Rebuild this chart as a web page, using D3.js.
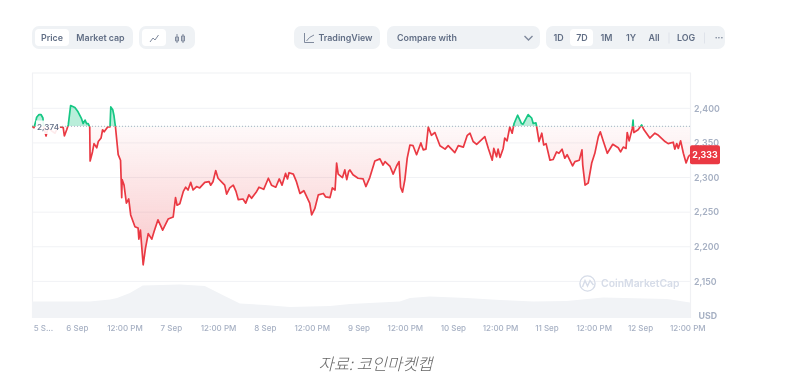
<!DOCTYPE html>
<html>
<head>
<meta charset="utf-8">
<script src="https://cdn.jsdelivr.net/npm/d3@7"></script>
<style>
  html, body { margin: 0; padding: 0; background: #fff; }
  svg { display: block; filter: blur(0.6px); font-family: Inter, "Noto Sans", sans-serif; }
  .btn { font-size: 8.9px; font-weight: 600; fill: #616e85; text-anchor: middle; }
  .tick text { font-family: Inter, sans-serif; }
</style>
</head>
<body>
<div id="chart"></div>
<script>
// hours since 6 Sep 00:00
const hours = [
  -11.5,-11,-10.5,-10.3,-9.7,-9.2,-8.7,-8.5,-7.9,-7.4,-6.4,-5.6,-4.9,-4.1,-3.5,-3.2,-2.6,-2.2,-1.6,-0.5,
  0.3,1.2,1.6,2.1,2.5,2.9,3.3,3.4,4,4.4,5.1,5.5,6.2,6.6,7,7.9,8.5,8.7,9.2,9.5,9.9,10.6,11.2,11.5,11.6,
  12.1,12.7,13.3,13.8,14.9,15.7,15.9,16.3,17,17.6,18.3,19.2,19.8,20.8,22,23.4,
  24.7,25.3,25.7,26.4,27.3,27.9,28.5,29.2,29.8,30.7,31.5,32.8,33.9,34.3,34.9,35.6,
  36.2,37.4,37.9,38.4,39.2,40.1,40.8,41.4,42.6,43.3,44.1,44.8,46.1,46.7,47.9,
  49.1,49.9,51,51.9,52.6,53.5,54,54.4,55.5,56.3,57.2,58.2,59.7,60.2,
  61,61.9,63.2,63.8,64.9,65.5,66.2,66.6,67,68.1,68.7,69.2,69.7,70,70.8,
  72.1,73.4,74.1,75.1,76.4,77.7,78.5,79,80.3,81.1,82,82.6,83,83.5,
  84.1,84.7,85.4,86.2,87.1,88.2,88.8,89.5,90.1,90.9,91.8,93.1,94.4,95.2,
  96.9,97.8,99.1,100.1,100.8,101.6,102.5,104.6,105.5,106.5,106.9,107.6,
  108,108.5,109.3,109.7,110.3,111,111.6,112.1,113,114,114.4,115.7,116.6,117,117.7,117.9,118.5,119.2,119.7,
  120.3,121.3,122.1,123,123.6,124.4,125.1,125.7,127.1,127.7,128.8,129.5,129.7,130.3,131.1,
  132,132.8,133.7,134.2,135,136,137.4,138.8,139.4,140.1,140.8,141.1,141.6,142.4,142.6,142.8,143.9,
  144.8,145.4,146.9,148.2,149.1,150.8,151.6,152.9,153.3,153.8,154.2,154.8,155.5,156.2,156.8,157.2
];
const prices = [
  2374,2372,2382,2387,2391,2391,2386,2373,2360,2372,2367,2364,2372,2373,2372,2360,2369,2376,2404,2401,
  2395,2385,2378,2383,2378,2378,2373,2324,2337,2349,2343,2352,2357,2369,2366,2373,2373,2402,2398,2390,2373,2333,2325,2271,2297,
  2289,2263,2269,2246,2229,2227,2211,2224,2174,2198,2219,2211,2222,2239,2224,2240,
  2243,2271,2260,2262,2280,2286,2282,2293,2282,2287,2285,2293,2294,2289,2294,2310,
  2299,2292,2289,2276,2285,2289,2280,2268,2269,2263,2275,2270,2280,2286,2283,
  2299,2289,2286,2298,2289,2306,2298,2307,2305,2294,2277,2281,2263,2246,
  2255,2275,2277,2272,2271,2285,2282,2321,2305,2300,2311,2297,2309,2311,2304,
  2299,2298,2287,2300,2324,2327,2318,2323,2316,2305,2317,2323,2286,2279,
  2297,2328,2347,2346,2333,2350,2340,2341,2373,2361,2365,2346,2341,2346,
  2336,2346,2344,2361,2364,2352,2348,2359,2342,2325,2342,2330,
  2341,2329,2342,2357,2353,2373,2364,2378,2390,2378,2377,2391,2386,2378,2379,2373,2352,2364,2347,
  2349,2325,2326,2337,2335,2341,2328,2333,2317,2323,2325,2340,2318,2289,2292,
  2321,2335,2359,2366,2352,2335,2348,2343,2337,2344,2342,2365,2353,2371,2383,2365,2369,
  2376,2369,2357,2364,2361,2352,2349,2351,2341,2349,2342,2353,2335,2321,2330,2333
];
const volumeHours = [-11.5,3.3,8.5,10.3,13.6,16.9,26.4,32.8,37.9,41.8,48.2,54.6,64.9,70,82.8,85.4,90.5,100,108.5,117,125.6,134.9,151.3,157.2];
const volumes = [33,33,37,40,50,65,67,64,44,29,26,22,24,28,33,40,43,40,36,33,34,41,38,31];

const yTicks = [2400, 2350, 2300, 2250, 2200, 2150];
const xTickHours = [-8.7,0,12.2,24.1,36.2,48.2,60.2,72.2,84.1,96.4,108.5,120.4,132.5,144.4,156.5];
const xTickLabels = ["5 S...","6 Sep","12:00 PM","7 Sep","12:00 PM","8 Sep","12:00 PM","9 Sep","12:00 PM","10 Sep","12:00 PM","11 Sep","12:00 PM","12 Sep","12:00 PM"];
const openPrice = 2374;
const lastPrice = 2333;

const width = 793;
const height = 379;
const plot = { left: 32, right: 690, top: 73, bottom: 318 };
const red = "#ea3943";
const green = "#16c784";

const x = d3.scaleLinear().domain([-11.5, 157.2]).range([plot.left, plot.right]);
const y = d3.scaleLinear().domain([2150, 2400]).range([281.4, 108.3]);
const yVol = d3.scaleLinear().domain([0, 100]).range([plot.bottom, plot.bottom - 50]);
const fmt = d3.format(",");
const rows = hours.map((h, i) => ({ h, p: prices[i] }));
const volRows = volumeHours.map((h, i) => ({ h, v: volumes[i] }));

const svg = d3.select("#chart").append("svg").attr("width", width).attr("height", height);
const defs = svg.append("defs");

const grad = defs.append("linearGradient").attr("id", "redFill")
  .attr("gradientUnits", "userSpaceOnUse").attr("x1", 0).attr("x2", 0)
  .attr("y1", y(openPrice)).attr("y2", y(2174));
grad.append("stop").attr("offset", 0).attr("stop-color", red).attr("stop-opacity", 0.03);
grad.append("stop").attr("offset", 1).attr("stop-color", red).attr("stop-opacity", 0.28);

defs.append("clipPath").attr("id", "above").append("rect")
  .attr("x", plot.left).attr("y", plot.top).attr("width", plot.right - plot.left).attr("height", y(openPrice) - plot.top);
defs.append("clipPath").attr("id", "below").append("rect")
  .attr("x", plot.left).attr("y", y(openPrice)).attr("width", plot.right - plot.left).attr("height", plot.bottom - y(openPrice));

// toolbar
const pills = [
  { x: 32, w: 101, fill: "#eff2f5" }, { x: 139, w: 56, fill: "#eff2f5" }, { x: 294, w: 86, fill: "#eff2f5" },
  { x: 387, w: 153, fill: "#eff2f5" }, { x: 546, w: 179, fill: "#eff2f5" },
  { x: 35, w: 34, fill: "#fff", inner: true }, { x: 142, w: 24, fill: "#fff", inner: true }, { x: 570, w: 23, fill: "#fff", inner: true }
];
svg.append("g").selectAll("rect").data(pills).join("rect")
  .attr("x", d => d.x).attr("y", d => d.inner ? 29 : 26)
  .attr("width", d => d.w).attr("height", d => d.inner ? 17 : 23)
  .attr("rx", d => d.inner ? 4 : 7).attr("fill", d => d.fill);

const buttons = [
  ["Price", 52], ["Market cap", 100.5], ["TradingView", 345.5], ["1D", 558.5], ["7D", 582], ["1M", 606.5],
  ["1Y", 631], ["All", 654], ["LOG", 686], ["···", 719]
];
svg.append("g").selectAll("text").data(buttons).join("text")
  .attr("class", "btn").attr("x", d => d[1]).attr("y", 40.8).text(d => d[0]);
svg.append("text").attr("class", "btn").attr("x", 397).attr("y", 40.8).style("text-anchor", "start").text("Compare with");

const icons = svg.append("g").attr("fill", "none").attr("stroke", "#808a9d").attr("stroke-width", 1);
icons.append("path").attr("d", "M150 42 L153 38 L155 40 L158.5 35");
icons.append("path").attr("d", "M177 34 V43 M175.5 37 h3 v4 h-3 z M183 34 V43 M181.5 36 h3 v5 h-3 z");
icons.append("path").attr("d", "M304.5 33 V42.5 H314 M306.5 41 L309.5 37.5 L314 35");
icons.append("path").attr("d", "M524.5 36 L528.5 40 L532.5 36").attr("stroke-width", 1.4);
icons.append("path").attr("d", "M669 32.5 V43.5 M704.5 32.5 V43.5").attr("stroke", "#dfe3ea");

// frame and gridlines
svg.append("g").selectAll("line").data(yTicks).join("line")
  .attr("x1", plot.left).attr("x2", plot.right).attr("y1", d => y(d)).attr("y2", d => y(d))
  .attr("stroke", "#f1f2f5");
svg.append("path")
  .attr("d", `M${plot.left + 0.5} ${plot.bottom} V${plot.top} H${plot.right + 0.5} V${plot.bottom}`)
  .attr("fill", "none").attr("stroke", "#f0f1f4").attr("stroke-width", 1.2);

// volume
svg.append("path").datum(volRows)
  .attr("d", d3.area().x(d => x(d.h)).y0(plot.bottom).y1(d => yVol(d.v)))
  .attr("fill", "#f1f3f6");

// watermark
const logo = svg.append("g");
logo.append("circle").attr("cx", 587.5).attr("cy", 283.5).attr("r", 7.6)
  .attr("fill", "none").attr("stroke", "#d6dce8").attr("stroke-width", 1.4);
logo.append("path").attr("d", "M582.5 287 L585 280.5 L587.5 286 L590 280.5 L593.5 285")
  .attr("fill", "none").attr("stroke", "#d6dce8").attr("stroke-width", 1.4);
logo.append("text").attr("x", 601).attr("y", 287.3).attr("font-size", 10.4).attr("font-weight", 600)
  .attr("fill", "#d6dce8").text("CoinMarketCap");

// price areas, split at the opening price
const area = d3.area().x(d => x(d.h)).y0(y(openPrice)).y1(d => y(d.p));
svg.append("path").datum(rows).attr("d", area).attr("fill", "url(#redFill)").attr("clip-path", "url(#below)");
svg.append("path").datum(rows).attr("d", area).attr("fill", green).attr("fill-opacity", 0.3).attr("clip-path", "url(#above)");

svg.append("line").attr("x1", plot.left).attr("x2", plot.right)
  .attr("y1", y(openPrice)).attr("y2", y(openPrice))
  .attr("stroke", "#a6b0c3").attr("stroke-dasharray", "1 2");

const line = d3.line().x(d => x(d.h)).y(d => y(d.p));
svg.append("path").datum(rows).attr("d", line).attr("fill", "none").attr("stroke", red)
  .attr("stroke-width", 1.7).attr("stroke-linejoin", "round").attr("clip-path", "url(#below)");
svg.append("path").datum(rows).attr("d", line).attr("fill", "none").attr("stroke", green)
  .attr("stroke-width", 1.7).attr("stroke-linejoin", "round").attr("clip-path", "url(#above)");

// opening price label sits over the line
svg.append("rect").attr("x", 36).attr("y", 120.5).attr("width", 24).attr("height", 13.5)
  .attr("fill", "#fff").attr("fill-opacity", 0.9);
svg.append("text").attr("x", 37).attr("y", y(openPrice) + 4).attr("font-size", 8.2).attr("font-weight", 500)
  .attr("fill", "#616e85").text(fmt(openPrice));

// axes
const yAxis = svg.append("g").attr("transform", `translate(${plot.right},0)`)
  .call(d3.axisRight(y).tickValues(yTicks).tickFormat(fmt).tickSize(0).tickPadding(4));
yAxis.select(".domain").remove();
yAxis.selectAll("text").attr("font-size", 8.8).attr("font-weight", 600).attr("fill", "#a6b0c3");

const xTick = d3.scaleOrdinal().domain(xTickHours).range(xTickLabels);
const xAxis = svg.append("g").attr("transform", `translate(0,${plot.bottom})`)
  .call(d3.axisBottom(x).tickValues(xTickHours).tickFormat(d => xTick(d)).tickSize(0).tickPadding(7));
xAxis.select(".domain").remove();
xAxis.selectAll("text").attr("font-size", 8).attr("font-weight", 500).attr("fill", "#a6b0c3");

svg.append("text").attr("x", 717).attr("y", 318.5).attr("text-anchor", "end").attr("font-size", 8.8)
  .attr("font-weight", 700).attr("fill", "#a6b0c3").text("USD");

// last price badge
svg.append("rect").attr("x", plot.right).attr("y", y(lastPrice) - 9.5).attr("width", 30).attr("height", 19)
  .attr("rx", 2).attr("fill", red);
svg.append("text").attr("x", plot.right + 15).attr("y", y(lastPrice) + 3.2).attr("text-anchor", "middle")
  .attr("font-size", 8.8).attr("font-weight", 700).attr("fill", "#fff").text(fmt(lastPrice));

// caption
svg.append("text").attr("x", 375.5).attr("y", 369.5).attr("text-anchor", "middle")
  .attr("font-family", "'Noto Sans CJK KR', sans-serif").attr("font-size", 16.5).attr("font-style", "italic")
  .attr("font-weight", 300).attr("fill", "#666").text("자료: 코인마켓캡");
</script>
</body>
</html>
